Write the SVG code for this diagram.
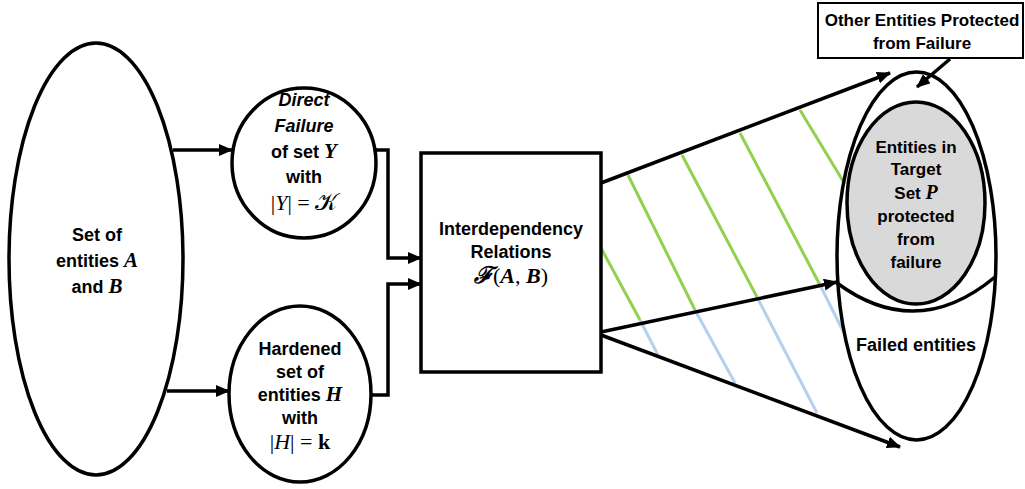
<svg xmlns="http://www.w3.org/2000/svg" width="1025" height="489" viewBox="0 0 1025 489">
<defs>
<marker id="ah" markerUnits="userSpaceOnUse" markerWidth="14" markerHeight="12" refX="13" refY="6" orient="auto">
<path d="M0,0 L14,6 L0,12 z" fill="#000"/>
</marker>
<style>
.node{fill:#fff;stroke:#000;stroke-width:3.5}
.t{font-family:"Liberation Sans",Arial,sans-serif;font-weight:bold;font-size:18px;text-anchor:middle;fill:#000}
.s{font-size:17px}
.m{font-family:"Liberation Serif","DejaVu Serif",serif;font-style:italic;font-weight:bold;font-size:21px}
.mr{font-family:"Liberation Serif","DejaVu Serif",serif;font-weight:normal;font-style:normal;font-size:22px}
.c{fill:none;stroke:#000;stroke-width:3.5}
.g{stroke:#92d050;stroke-width:3}
.b{stroke:#b4d0ec;stroke-width:3}
</style>
</defs>
<rect width="1025" height="489" fill="#fff"/>

<g id="hatch">
<line class="g" x1="601" y1="248" x2="640" y2="320"/>
<line class="b" x1="640" y1="320" x2="658" y2="355"/>
<line class="g" x1="628" y1="175" x2="695" y2="310"/>
<line class="b" x1="695" y1="310" x2="735" y2="383"/>
<line class="g" x1="682" y1="155" x2="757" y2="297"/>
<line class="b" x1="757" y1="297" x2="817" y2="413"/>
<line class="g" x1="740" y1="133" x2="820" y2="285"/>
<line class="b" x1="820" y1="285" x2="845" y2="335"/>
<line class="g" x1="800" y1="110" x2="843" y2="181"/>
</g>

<g id="n-sets">
<ellipse class="node" cx="96" cy="259" rx="87" ry="216"/>
<text class="t" x="97" y="241">Set of</text>
<text class="t" x="97" y="267">entities <tspan class="m">A</tspan></text>
<text class="t" x="97" y="293">and <tspan class="m">B</tspan></text>
</g>

<g id="n-direct">
<ellipse class="node" cx="304" cy="163" rx="72" ry="75"/>
<text class="t" x="304" y="106" style="font-style:italic">Direct</text>
<text class="t" x="304" y="132" style="font-style:italic">Failure</text>
<text class="t" x="304" y="158">of set <tspan class="m">Y</tspan></text>
<text class="t" x="304" y="183">with</text>
<text class="t" x="304" y="210"><tspan class="mr">|</tspan><tspan class="m" style="font-weight:normal;font-size:22px">Y</tspan><tspan class="mr">| = </tspan><tspan class="mr" style="font-size:24px">𝒦</tspan></text>
</g>

<g id="n-hardened">
<ellipse class="node" cx="300" cy="394" rx="71" ry="88"/>
<text class="t" x="300" y="355">Hardened</text>
<text class="t" x="300" y="378">set of</text>
<text class="t" x="300" y="401">entities <tspan class="m">H</tspan></text>
<text class="t" x="300" y="424">with</text>
<text class="t" x="300" y="449"><tspan class="mr">|</tspan><tspan class="m" style="font-weight:normal;font-size:22px">H</tspan><tspan class="mr">| = </tspan><tspan class="mr" style="font-weight:bold">k</tspan></text>
</g>

<g id="n-relations">
<rect class="node" x="421" y="153" width="180" height="219"/>
<text class="t" x="511" y="235">Interdependency</text>
<text class="t" x="511" y="258">Relations</text>
<text class="t" x="511" y="283"><tspan class="m" style="font-size:23px">ℱ</tspan><tspan class="mr">(</tspan><tspan class="m" style="font-size:22px">A</tspan><tspan class="mr">, </tspan><tspan class="m" style="font-size:22px">B</tspan><tspan class="mr">)</tspan></text>
</g>

<g id="n-outcome">
<ellipse class="node" cx="916.5" cy="256" rx="79.5" ry="184"/>
<path class="c" d="M837,283 Q917,342 995,277"/>
<text class="t" x="916" y="351">Failed entities</text>
</g>

<g id="n-target">
<ellipse cx="916" cy="203" rx="69" ry="101" fill="#d9d9d9" stroke="#000" stroke-width="3.5"/>
<text class="t s" x="916" y="153">Entities in</text>
<text class="t s" x="916" y="175">Target</text>
<text class="t s" x="916" y="199">Set <tspan class="m" style="font-size:20px">P</tspan></text>
<text class="t s" x="916" y="222">protected</text>
<text class="t s" x="916" y="245">from</text>
<text class="t s" x="916" y="268">failure</text>
</g>

<g id="n-other">
<rect x="818" y="3" width="205" height="55" fill="#fff" stroke="#000" stroke-width="2"/>
<text class="t s" x="922" y="26">Other Entities Protected</text>
<text class="t s" x="922" y="49">from Failure</text>
</g>

<g id="connectors">
<line class="c" x1="173" y1="150" x2="232" y2="150" marker-end="url(#ah)"/>
<line class="c" x1="167" y1="391" x2="229" y2="391" marker-end="url(#ah)"/>
<polyline class="c" points="376,150 388,150 388,258 421,258" marker-end="url(#ah)"/>
<polyline class="c" points="370,395 388,395 388,284 421,284" marker-end="url(#ah)"/>
<line class="c" x1="601" y1="183" x2="890" y2="73" marker-end="url(#ah)"/>
<line class="c" x1="601" y1="332" x2="837" y2="282" marker-end="url(#ah)"/>
<line class="c" x1="601" y1="335" x2="900" y2="447" marker-end="url(#ah)"/>
<line class="c" x1="950" y1="59" x2="917" y2="87" marker-end="url(#ah)"/>
</g>
</svg>
